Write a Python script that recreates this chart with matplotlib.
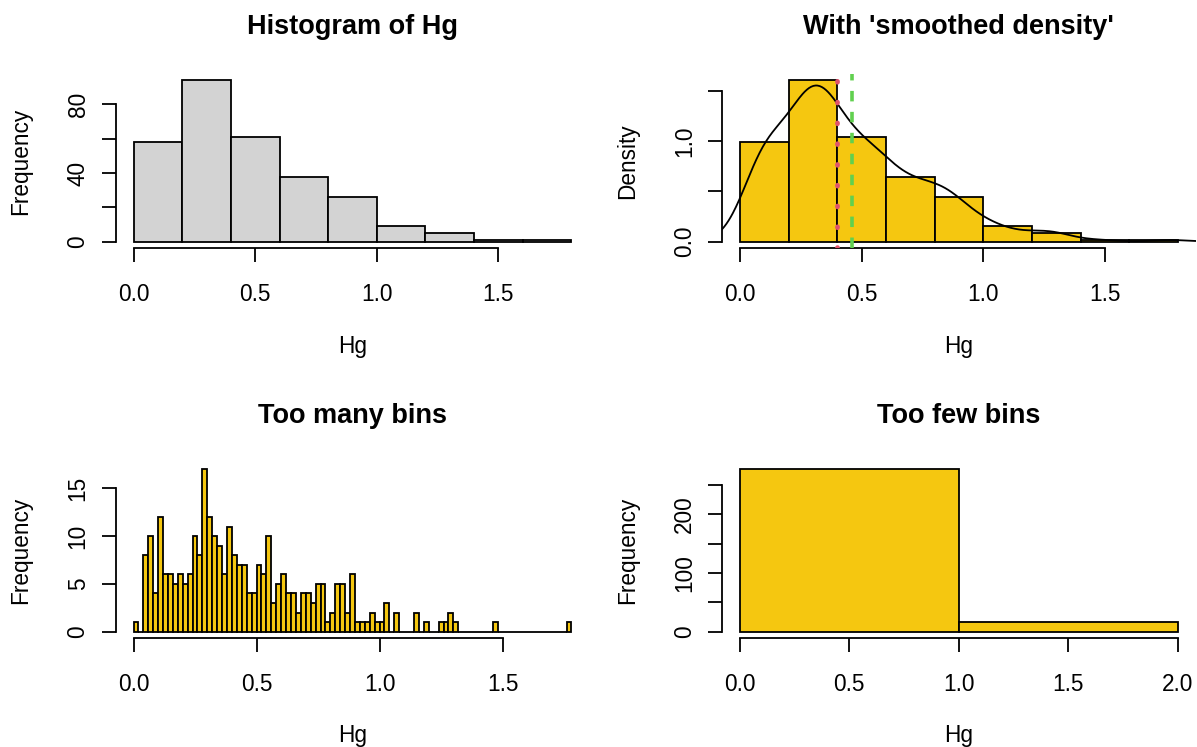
import numpy as np
import matplotlib.pyplot as plt

plt.rcParams['font.family'] = ['Liberation Sans', 'DejaVu Sans']

# Hg counts in 0.02 wide bins, from 0.00 up to 1.78
hg_counts = [1, 0, 8, 10, 4, 12, 6, 6, 5, 6, 5, 6, 10, 8, 17, 12, 10, 9, 6, 11,
             8, 7, 7, 4, 4, 7, 6, 10, 3, 5, 6, 4, 4, 2, 4, 4, 3, 5, 5, 1,
             2, 5, 5, 2, 6, 1, 1, 1, 2, 1, 1, 3, 0, 2, 0, 0, 0, 2, 0, 1,
             0, 0, 1, 1, 2, 1, 0, 0, 0, 0, 0, 0, 0, 1, 0, 0, 0, 0, 0, 0,
             0, 0, 0, 0, 0, 0, 0, 0, 1]
fine_edges = np.linspace(0, 1.78, 90)
mids = (fine_edges[:-1] + fine_edges[1:]) / 2
counts = np.array(hg_counts, dtype=float)

hg_median = 0.40
hg_mean = 0.46

GOLD = '#F5C710'
RED = '#DF536B'
GREEN = '#61D04F'
W, H = 1197, 747
FS = 16.3

fig = plt.figure(figsize=(W / 100, H / 100), dpi=100)


def px_axes(l, t, r, b):
    return fig.add_axes([l / W, 1 - b / H, (r - l) / W, (b - t) / H])


def r_limits(ax, x0, x1, ymax):
    dx = (x1 - x0) * 0.04
    ax.set_xlim(x0 - dx, x1 + dx)
    ax.set_ylim(-0.04 * ymax, ymax * 1.04)


def r_axes(ax, xt, xl, yt, yl):
    for s in ['top', 'right']:
        ax.spines[s].set_visible(False)
    for s in ['left', 'bottom']:
        ax.spines[s].set_linewidth(1.3)
    ax.spines['bottom'].set_bounds(xt[0], xt[-1])
    ax.spines['left'].set_bounds(yt[0], yt[-1])
    ax.set_xticks(xt, xl)
    ax.set_yticks(yt, yl)
    ax.tick_params(axis='both', length=10, width=1.3, labelsize=FS)
    ax.tick_params(axis='x', pad=15)
    ax.tick_params(axis='y', pad=9)
    for lab in ax.get_yticklabels():
        lab.set_rotation(90)
        lab.set_va('center')
    ax.set_facecolor('none')


def labels(ax_l, ax_r, ax_t, ax_b, title, ylab, xlab_y):
    cx = (ax_l + ax_r) / 2
    cy = (ax_t + ax_b) / 2
    fig.text(cx / W, 1 - (ax_t - 47) / H, title, ha='center', va='center',
             fontsize=FS * 1.2, fontweight='bold')
    fig.text(cx / W, 1 - xlab_y / H, 'Hg', ha='center', va='center', fontsize=FS)
    fig.text((ax_l - 95) / W, 1 - cy / H, ylab, ha='center', va='center',
             rotation=90, fontsize=FS)


xt = [0, 0.5, 1.0, 1.5]
xl = ['0.0', '0.5', '1.0', '1.5']
coarse = np.linspace(0, 1.8, 10)

# top left
ax1 = px_axes(116, 74, 589, 248.2)
n1, _, _ = ax1.hist(mids, bins=coarse, weights=counts, color='#D3D3D3',
                    edgecolor='black', linewidth=1.3)
r_limits(ax1, 0, 1.8, n1.max())
r_axes(ax1, xt, xl, [0, 20, 40, 60, 80], ['0', '', '40', '', '80'])
labels(116, 589, 74, 248.2, 'Histogram of Hg', 'Frequency', 346.5)

# top right, density with KDE
ax2 = px_axes(722.3, 74, 1195.5, 248.2)
n2, _, _ = ax2.hist(mids, bins=coarse, weights=counts, density=True, color=GOLD,
                    edgecolor='black', linewidth=1.3)
r_limits(ax2, 0, 1.8, n2.max())
N = counts.sum()
m = np.sum(counts * mids) / N
sd = np.sqrt(np.sum(counts * (mids - m) ** 2) / (N - 1))
sample = np.repeat(mids, counts.astype(int))
iqr = np.percentile(sample, 75) - np.percentile(sample, 25)
bw = 0.9 * min(sd, iqr / 1.34) * N ** -0.2
grid = np.linspace(mids.min() - 3 * bw, mids.max() + 3 * bw, 512)
dens = np.sum(counts[None, :] * np.exp(-0.5 * ((grid[:, None] - mids[None, :]) / bw) ** 2),
              axis=1) / (N * bw * np.sqrt(2 * np.pi))
ax2.plot(grid, dens, color='black', linewidth=1.3)
ax2.axvline(hg_median, color=RED, linewidth=3.4, linestyle=(0, (0.2, 4.2)),
            dash_capstyle='round', zorder=5)
ax2.axvline(hg_mean, color=GREEN, linewidth=2.6, linestyle=(0, (2.9, 2.9)), zorder=5)
r_axes(ax2, xt, xl, [0, 0.5, 1.0, 1.5], ['0.0', '', '1.0', ''])
labels(722.3, 1195.5, 74, 248.2, "With 'smoothed density'", 'Density', 346.5)

# bottom left, too many bins
ax3 = px_axes(116, 462.7, 589, 638.2)
n3, _, _ = ax3.hist(mids, bins=fine_edges, weights=counts, color=GOLD,
                    edgecolor='black', linewidth=1.3)
r_limits(ax3, 0, 1.78, n3.max())
r_axes(ax3, xt, xl, [0, 5, 10, 15], ['0', '5', '10', '15'])
labels(116, 589, 462.7, 638.2, 'Too many bins', 'Frequency', 735.5)

# bottom right, too few bins
ax4 = px_axes(722.3, 462.7, 1195.5, 638.2)
n4, _, _ = ax4.hist(mids, bins=[0, 1, 2], weights=counts, color=GOLD,
                    edgecolor='black', linewidth=1.3)
r_limits(ax4, 0, 2, n4.max())
r_axes(ax4, [0, 0.5, 1.0, 1.5, 2.0], ['0.0', '0.5', '1.0', '1.5', '2.0'],
       [0, 50, 100, 150, 200, 250], ['0', '', '100', '', '200', ''])
labels(722.3, 1195.5, 462.7, 638.2, 'Too few bins', 'Frequency', 735.5)

fig.savefig('out.png', dpi=100)
